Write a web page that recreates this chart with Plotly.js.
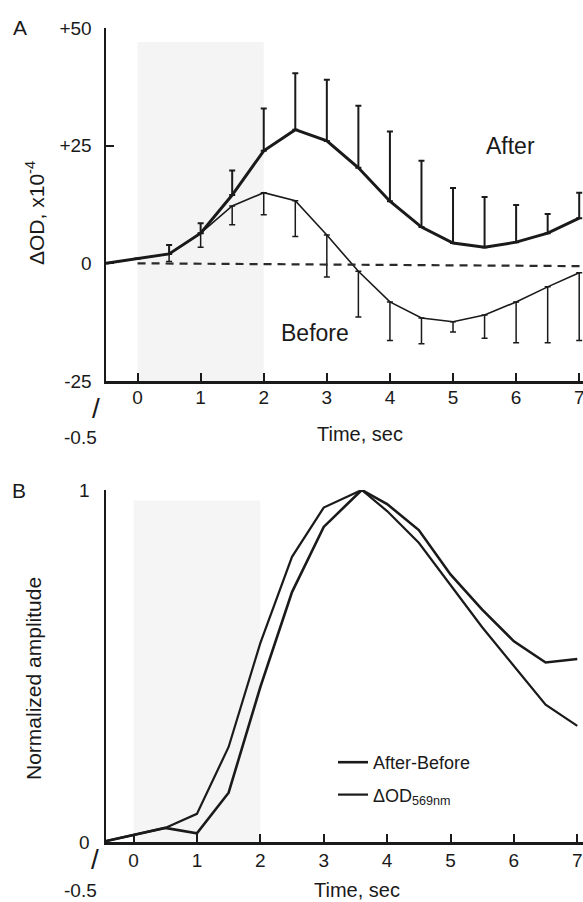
<!DOCTYPE html>
<html>
<head>
<meta charset="utf-8">
<script src="https://cdn.plot.ly/plotly-3.0.1.min.js"></script>
<style>html,body{margin:0;padding:0;background:#fff;}#chart{width:583px;height:902px;}</style>
</head>
<body>
<div id="chart"></div>
<script>
// Panel A data (ΔOD, x10^-4)
const timeA = [-0.5, 0, 0.5, 1, 1.5, 2, 2.5, 3, 3.5, 4, 4.5, 5, 5.5, 6, 6.5, 7];
const afterVals = [0, 1, 2, 6.4, 14.5, 23.9, 28.4, 26, 20.3, 13.2, 7.7, 4.3, 3.4, 4.5, 6.4, 9.6];
const afterErrUp = [0, 0, 1.9, 2.1, 5.2, 9, 12, 13, 13.2, 14.8, 14.1, 11.7, 10.7, 7.9, 4.1, 5.4];
const beforeVals = [0, 1, 2, 6.4, 12.2, 15, 13.3, 6, -1.7, -8.2, -11.6, -12.4, -11, -8.2, -5, -2];
const beforeErrDown = [0, 0, 1.6, 3, 4, 4.7, 7.6, 8.9, 9.7, 8.2, 5.5, 2.2, 4.9, 8.7, 11.9, 14.4];
const zerosA = timeA.map(() => 0);
const baselineX = [0, 7.06];
const baselineY = [0, -0.6];

// Panel B data (normalized amplitude)
const timeB = [-0.5, 0.5, 1, 1.5, 2, 2.5, 3, 3.6, 4, 4.5, 5, 5.5, 6, 6.5, 7];
const afterMinusBefore = [0, 0.04, 0.025, 0.14, 0.44, 0.71, 0.895, 1.0, 0.96, 0.886, 0.76, 0.66, 0.57, 0.51, 0.52];
const od569 = [0, 0.04, 0.08, 0.27, 0.565, 0.81, 0.95, 1.0, 0.94, 0.85, 0.73, 0.61, 0.50, 0.39, 0.33];

// Tick labels
const xTicks = [0, 1, 2, 3, 4, 5, 6, 7];
const yTicksA = [-25, 0, 25, 50];
const yTickTextA = ['-25', '0', '+25', '+50'];
const yTicksB = [0, 1];
const yTickTextB = ['0', '1'];
const stimWindow = [0, 2];

const FONT = 'Liberation Sans, Arial, Helvetica, sans-serif';
const INK = '#1a1a1a';

const traces = [
  {x: timeA, y: afterVals, type: 'scatter', mode: 'lines', xaxis: 'x', yaxis: 'y', showlegend: false,
   line: {color: INK, width: 3},
   error_y: {type: 'data', symmetric: false, array: afterErrUp, arrayminus: zerosA, color: INK, thickness: 2, width: 3}},
  {x: timeA, y: beforeVals, type: 'scatter', mode: 'lines', xaxis: 'x', yaxis: 'y', showlegend: false,
   line: {color: INK, width: 1.6},
   error_y: {type: 'data', symmetric: false, array: zerosA, arrayminus: beforeErrDown, color: INK, thickness: 1.5, width: 3}},
  {x: baselineX, y: baselineY, type: 'scatter', mode: 'lines', xaxis: 'x', yaxis: 'y', showlegend: false,
   line: {color: '#2a2a2a', width: 2.2, dash: '8px,6px'}},
  {x: timeB, y: afterMinusBefore, type: 'scatter', mode: 'lines', xaxis: 'x2', yaxis: 'y2', name: 'After-Before',
   legendgroup: 'a', line: {color: INK, width: 2.6}},
  {x: timeB, y: od569, type: 'scatter', mode: 'lines', xaxis: 'x2', yaxis: 'y2', name: 'ΔOD<sub>569nm</sub>',
   legendgroup: 'b', line: {color: INK, width: 2.2}}
];

const axisCommon = {
  showline: true, linecolor: INK, linewidth: 2.5, ticks: 'inside', ticklen: 8, tickwidth: 2, tickcolor: INK,
  showgrid: false, zeroline: false, tickfont: {family: FONT, size: 19, color: INK}, fixedrange: true,
  ticklabeloverflow: 'allow'
};

function label(text, px, py, size, extra) {
  return Object.assign({text: text, xref: 'paper', yref: 'paper', x: px / 583, y: 1 - py / 902,
    xanchor: 'center', yanchor: 'middle', showarrow: false, font: {size: size}}, extra || {});
}

const layout = {
  width: 583, height: 902,
  margin: {l: 0, r: 0, t: 0, b: 0},
  paper_bgcolor: '#fff', plot_bgcolor: 'rgba(0,0,0,0)',
  font: {family: FONT, color: INK},
  xaxis: Object.assign({}, axisCommon, {domain: [106/583, 1], range: [-0.5, 7.06], anchor: 'y',
    tickvals: xTicks, ticklabelstandoff: -2}),
  yaxis: Object.assign({}, axisCommon, {domain: [0.5776, 0.969], range: [-25, 50], anchor: 'x',
    tickvals: yTicksA, ticktext: yTickTextA, ticklabelstandoff: 8}),
  xaxis2: Object.assign({}, axisCommon, {domain: [106/583, 1], range: [-0.434, 7.09], anchor: 'y2',
    tickvals: xTicks, ticklabelstandoff: 0}),
  yaxis2: Object.assign({}, axisCommon, {domain: [0.0665, 0.4568], range: [0, 1], anchor: 'x2',
    tickvals: yTicksB, ticktext: yTickTextB, ticklabelstandoff: 10}),
  showlegend: true,
  legend: {x: 333/583, y: 1 - 744/902, xanchor: 'left', yanchor: 'top', bgcolor: 'rgba(0,0,0,0)',
    font: {family: FONT, size: 18, color: INK}, tracegroupgap: 6, traceorder: 'grouped'},
  shapes: [
    {type: 'rect', xref: 'x', yref: 'y', x0: stimWindow[0], x1: stimWindow[1], y0: -25, y1: 47,
     fillcolor: 'rgba(0,0,0,0.045)', line: {width: 0}, layer: 'below'},
    {type: 'rect', xref: 'x2', yref: 'y2', x0: stimWindow[0], x1: stimWindow[1], y0: 0, y1: 0.97,
     fillcolor: 'rgba(0,0,0,0.04)', line: {width: 0}, layer: 'below'}
  ],
  annotations: [
    label('A', 20, 28, 21),
    label('B', 19, 490, 21),
    label('ΔOD, x10<sup>-4</sup>', 35, 213, 21, {textangle: -90}),
    label('Normalized amplitude', 33, 679, 21, {textangle: -90}),
    label('Time, sec', 360, 434, 20),
    label('Time, sec', 357, 890, 20),
    label('-0.5', 80, 437, 19),
    label('-0.5', 80, 890, 19),
    label('/', 96, 408, 28),
    label('/', 95, 859, 28),
    {text: 'After', xref: 'x', yref: 'y', x: 5.91, y: 24.9, showarrow: false, font: {size: 23}},
    {text: 'Before', xref: 'x', yref: 'y', x: 2.82, y: -14.9, showarrow: false, font: {size: 23}}
  ]
};

Plotly.newPlot('chart', traces, layout, {staticPlot: true, displayModeBar: false});
</script>
</body>
</html>
